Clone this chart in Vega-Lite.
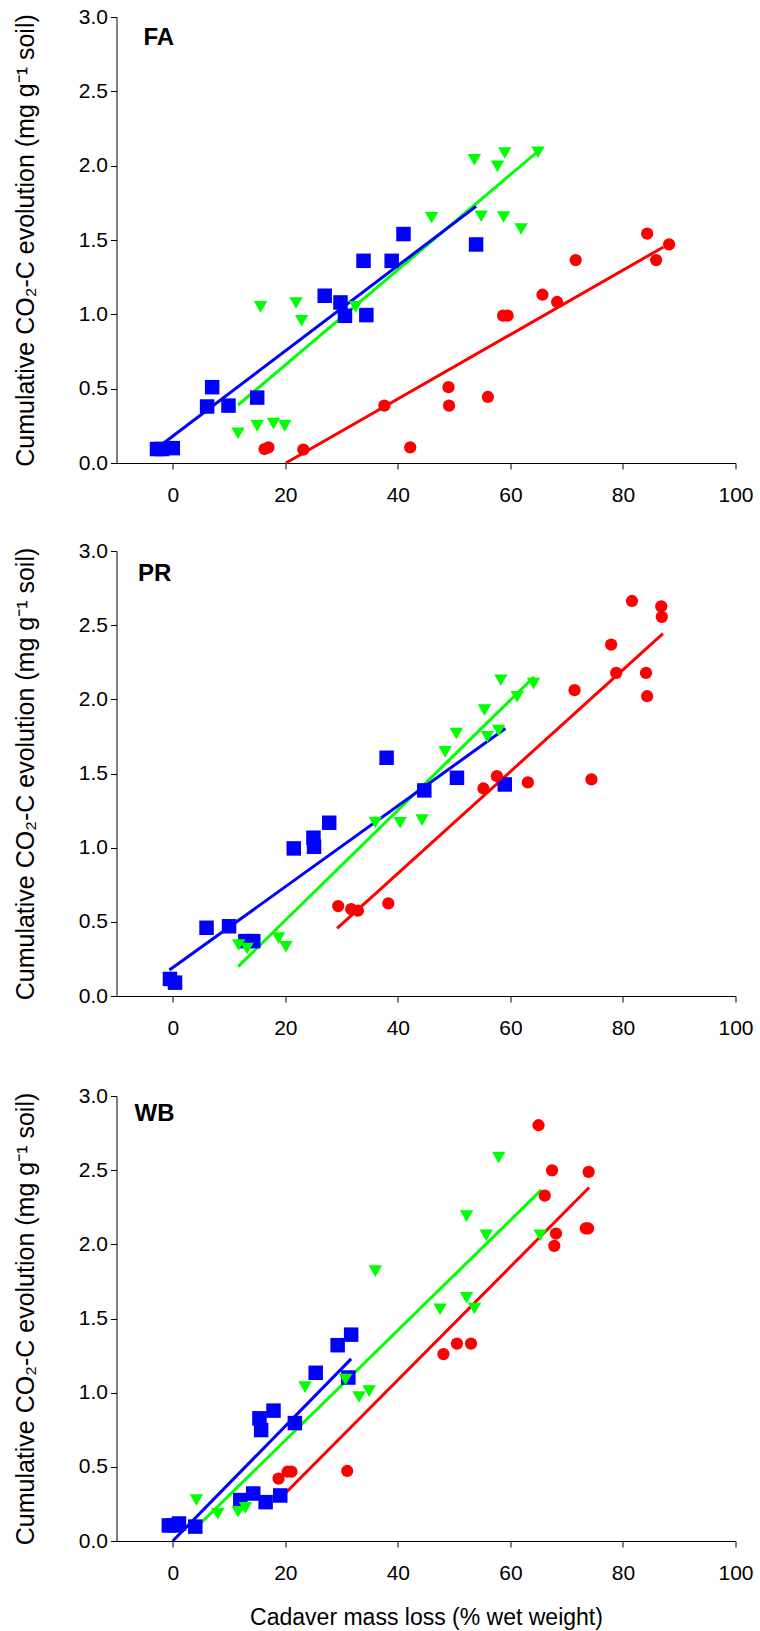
{
  "$schema": "https://vega.github.io/schema/vega-lite/v6.json",
  "background": "white",
  "padding": {"left": 12.5, "top": 6, "right": 5, "bottom": 2},
  "spacing": 47,
  "config": {
    "view": {"stroke": null},
    "font": "Liberation Sans",
    "axis": {
      "grid": false,
      "domainColor": "black",
      "tickColor": "black",
      "labelColor": "black",
      "titleColor": "black",
      "domainWidth": 1,
      "tickWidth": 1,
      "tickSize": 6,
      "labelFont": "Liberation Sans",
      "titleFont": "Liberation Sans",
      "labelFontSize": 21,
      "titleFontWeight": "normal",
      "labelFlush": false,
      "labelOverlap": false
    }
  },
  "datasets": {
    "points": [
      {"site": "FA", "series": "s3", "x": -2.8, "y": 0.094},
      {"site": "FA", "series": "s3", "x": -1.9, "y": 0.094},
      {"site": "FA", "series": "s3", "x": 0.0, "y": 0.10},
      {"site": "FA", "series": "s3", "x": 6.1, "y": 0.38},
      {"site": "FA", "series": "s3", "x": 7.0, "y": 0.51},
      {"site": "FA", "series": "s3", "x": 9.9, "y": 0.386},
      {"site": "FA", "series": "s3", "x": 15.0, "y": 0.44},
      {"site": "FA", "series": "s3", "x": 27.0, "y": 1.125},
      {"site": "FA", "series": "s3", "x": 29.8, "y": 1.08},
      {"site": "FA", "series": "s3", "x": 30.6, "y": 0.99},
      {"site": "FA", "series": "s3", "x": 34.4, "y": 0.995},
      {"site": "FA", "series": "s3", "x": 33.9, "y": 1.36},
      {"site": "FA", "series": "s3", "x": 38.9, "y": 1.36},
      {"site": "FA", "series": "s3", "x": 41.0, "y": 1.54},
      {"site": "FA", "series": "s3", "x": 53.9, "y": 1.47},
      {"site": "FA", "series": "s2", "x": 11.6, "y": 0.20},
      {"site": "FA", "series": "s2", "x": 15.0, "y": 0.25},
      {"site": "FA", "series": "s2", "x": 15.6, "y": 1.05},
      {"site": "FA", "series": "s2", "x": 17.9, "y": 0.265},
      {"site": "FA", "series": "s2", "x": 19.9, "y": 0.25},
      {"site": "FA", "series": "s2", "x": 21.9, "y": 1.076},
      {"site": "FA", "series": "s2", "x": 22.9, "y": 0.957},
      {"site": "FA", "series": "s2", "x": 32.5, "y": 1.05},
      {"site": "FA", "series": "s2", "x": 46.0, "y": 1.65},
      {"site": "FA", "series": "s2", "x": 53.6, "y": 2.04},
      {"site": "FA", "series": "s2", "x": 54.8, "y": 1.66},
      {"site": "FA", "series": "s2", "x": 57.7, "y": 1.995},
      {"site": "FA", "series": "s2", "x": 59.0, "y": 2.085},
      {"site": "FA", "series": "s2", "x": 58.8, "y": 1.655},
      {"site": "FA", "series": "s2", "x": 61.9, "y": 1.574},
      {"site": "FA", "series": "s2", "x": 64.9, "y": 2.09},
      {"site": "FA", "series": "s1", "x": 16.3, "y": 0.094},
      {"site": "FA", "series": "s1", "x": 17.0, "y": 0.105},
      {"site": "FA", "series": "s1", "x": 23.2, "y": 0.09},
      {"site": "FA", "series": "s1", "x": 37.6, "y": 0.386},
      {"site": "FA", "series": "s1", "x": 42.2, "y": 0.105},
      {"site": "FA", "series": "s1", "x": 49.0, "y": 0.51},
      {"site": "FA", "series": "s1", "x": 49.1, "y": 0.386},
      {"site": "FA", "series": "s1", "x": 56.0, "y": 0.444},
      {"site": "FA", "series": "s1", "x": 58.7, "y": 0.991},
      {"site": "FA", "series": "s1", "x": 59.5, "y": 0.991},
      {"site": "FA", "series": "s1", "x": 65.7, "y": 1.132},
      {"site": "FA", "series": "s1", "x": 68.3, "y": 1.083},
      {"site": "FA", "series": "s1", "x": 71.6, "y": 1.365},
      {"site": "FA", "series": "s1", "x": 84.3, "y": 1.543},
      {"site": "FA", "series": "s1", "x": 85.9, "y": 1.365},
      {"site": "FA", "series": "s1", "x": 88.2, "y": 1.471},

      {"site": "PR", "series": "s3", "x": -0.5, "y": 0.115},
      {"site": "PR", "series": "s3", "x": 0.4, "y": 0.09},
      {"site": "PR", "series": "s3", "x": 6.0, "y": 0.46},
      {"site": "PR", "series": "s3", "x": 10.0, "y": 0.47},
      {"site": "PR", "series": "s3", "x": 12.9, "y": 0.37},
      {"site": "PR", "series": "s3", "x": 14.3, "y": 0.37},
      {"site": "PR", "series": "s3", "x": 21.5, "y": 0.995},
      {"site": "PR", "series": "s3", "x": 25.0, "y": 1.067},
      {"site": "PR", "series": "s3", "x": 25.1, "y": 1.006},
      {"site": "PR", "series": "s3", "x": 27.8, "y": 1.168},
      {"site": "PR", "series": "s3", "x": 38.0, "y": 1.606},
      {"site": "PR", "series": "s3", "x": 44.7, "y": 1.386},
      {"site": "PR", "series": "s3", "x": 50.5, "y": 1.471},
      {"site": "PR", "series": "s3", "x": 59.0, "y": 1.426},
      {"site": "PR", "series": "s2", "x": 11.7, "y": 0.344},
      {"site": "PR", "series": "s2", "x": 13.2, "y": 0.32},
      {"site": "PR", "series": "s2", "x": 18.8, "y": 0.39},
      {"site": "PR", "series": "s2", "x": 20.1, "y": 0.332},
      {"site": "PR", "series": "s2", "x": 36.0, "y": 1.17},
      {"site": "PR", "series": "s2", "x": 40.4, "y": 1.168},
      {"site": "PR", "series": "s2", "x": 44.3, "y": 1.186},
      {"site": "PR", "series": "s2", "x": 48.4, "y": 1.646},
      {"site": "PR", "series": "s2", "x": 50.4, "y": 1.77},
      {"site": "PR", "series": "s2", "x": 55.4, "y": 1.927},
      {"site": "PR", "series": "s2", "x": 55.9, "y": 1.747},
      {"site": "PR", "series": "s2", "x": 57.9, "y": 1.79},
      {"site": "PR", "series": "s2", "x": 58.3, "y": 2.129},
      {"site": "PR", "series": "s2", "x": 61.2, "y": 2.017},
      {"site": "PR", "series": "s2", "x": 64.1, "y": 2.106},
      {"site": "PR", "series": "s1", "x": 29.4, "y": 0.606},
      {"site": "PR", "series": "s1", "x": 31.7, "y": 0.586},
      {"site": "PR", "series": "s1", "x": 32.9, "y": 0.575},
      {"site": "PR", "series": "s1", "x": 38.3, "y": 0.624},
      {"site": "PR", "series": "s1", "x": 55.2, "y": 1.399},
      {"site": "PR", "series": "s1", "x": 57.6, "y": 1.482},
      {"site": "PR", "series": "s1", "x": 63.1, "y": 1.44},
      {"site": "PR", "series": "s1", "x": 71.4, "y": 2.062},
      {"site": "PR", "series": "s1", "x": 74.4, "y": 1.46},
      {"site": "PR", "series": "s1", "x": 77.9, "y": 2.369},
      {"site": "PR", "series": "s1", "x": 78.8, "y": 2.178},
      {"site": "PR", "series": "s1", "x": 81.6, "y": 2.663},
      {"site": "PR", "series": "s1", "x": 84.1, "y": 2.178},
      {"site": "PR", "series": "s1", "x": 84.3, "y": 2.021},
      {"site": "PR", "series": "s1", "x": 86.8, "y": 2.627},
      {"site": "PR", "series": "s1", "x": 86.9, "y": 2.556},

      {"site": "WB", "series": "s3", "x": -0.7, "y": 0.105},
      {"site": "WB", "series": "s3", "x": 0.2, "y": 0.105},
      {"site": "WB", "series": "s3", "x": 1.1, "y": 0.118},
      {"site": "WB", "series": "s3", "x": 4.0, "y": 0.097},
      {"site": "WB", "series": "s3", "x": 12.0, "y": 0.276},
      {"site": "WB", "series": "s3", "x": 14.3, "y": 0.32},
      {"site": "WB", "series": "s3", "x": 16.5, "y": 0.262},
      {"site": "WB", "series": "s3", "x": 19.1, "y": 0.307},
      {"site": "WB", "series": "s3", "x": 15.4, "y": 0.827},
      {"site": "WB", "series": "s3", "x": 15.7, "y": 0.748},
      {"site": "WB", "series": "s3", "x": 17.9, "y": 0.879},
      {"site": "WB", "series": "s3", "x": 21.7, "y": 0.795},
      {"site": "WB", "series": "s3", "x": 25.4, "y": 1.134},
      {"site": "WB", "series": "s3", "x": 29.3, "y": 1.32},
      {"site": "WB", "series": "s3", "x": 31.7, "y": 1.391},
      {"site": "WB", "series": "s3", "x": 31.2, "y": 1.102},
      {"site": "WB", "series": "s2", "x": 4.2, "y": 0.276},
      {"site": "WB", "series": "s2", "x": 8.0, "y": 0.184},
      {"site": "WB", "series": "s2", "x": 11.6, "y": 0.197},
      {"site": "WB", "series": "s2", "x": 12.9, "y": 0.223},
      {"site": "WB", "series": "s2", "x": 23.5, "y": 1.037},
      {"site": "WB", "series": "s2", "x": 30.7, "y": 1.089},
      {"site": "WB", "series": "s2", "x": 33.1, "y": 0.971},
      {"site": "WB", "series": "s2", "x": 34.9, "y": 1.01},
      {"site": "WB", "series": "s2", "x": 36.0, "y": 1.819},
      {"site": "WB", "series": "s2", "x": 47.5, "y": 1.562},
      {"site": "WB", "series": "s2", "x": 52.2, "y": 2.19},
      {"site": "WB", "series": "s2", "x": 52.2, "y": 1.64},
      {"site": "WB", "series": "s2", "x": 53.6, "y": 1.567},
      {"site": "WB", "series": "s2", "x": 55.7, "y": 2.06},
      {"site": "WB", "series": "s2", "x": 57.9, "y": 2.585},
      {"site": "WB", "series": "s2", "x": 65.3, "y": 2.06},
      {"site": "WB", "series": "s1", "x": 18.8, "y": 0.42},
      {"site": "WB", "series": "s1", "x": 20.4, "y": 0.467},
      {"site": "WB", "series": "s1", "x": 21.1, "y": 0.467},
      {"site": "WB", "series": "s1", "x": 31.0, "y": 0.472},
      {"site": "WB", "series": "s1", "x": 48.1, "y": 1.26},
      {"site": "WB", "series": "s1", "x": 50.5, "y": 1.331},
      {"site": "WB", "series": "s1", "x": 53.0, "y": 1.331},
      {"site": "WB", "series": "s1", "x": 65.0, "y": 2.803},
      {"site": "WB", "series": "s1", "x": 66.1, "y": 2.328},
      {"site": "WB", "series": "s1", "x": 67.4, "y": 2.499},
      {"site": "WB", "series": "s1", "x": 68.1, "y": 2.073},
      {"site": "WB", "series": "s1", "x": 67.8, "y": 1.99},
      {"site": "WB", "series": "s1", "x": 73.4, "y": 2.108},
      {"site": "WB", "series": "s1", "x": 73.8, "y": 2.108},
      {"site": "WB", "series": "s1", "x": 73.9, "y": 2.488}
    ],
    "fits": [
      {"site": "FA", "series": "s1", "x": 20.1, "y": 0.0},
      {"site": "FA", "series": "s1", "x": 87.2, "y": 1.453},
      {"site": "FA", "series": "s2", "x": 11.6, "y": 0.39},
      {"site": "FA", "series": "s2", "x": 65.0, "y": 2.10},
      {"site": "FA", "series": "s3", "x": -1.6, "y": 0.135},
      {"site": "FA", "series": "s3", "x": 53.9, "y": 1.726},
      {"site": "PR", "series": "s1", "x": 29.2, "y": 0.456},
      {"site": "PR", "series": "s1", "x": 87.1, "y": 2.443},
      {"site": "PR", "series": "s2", "x": 11.6, "y": 0.198},
      {"site": "PR", "series": "s2", "x": 64.2, "y": 2.151},
      {"site": "PR", "series": "s3", "x": -0.6, "y": 0.175},
      {"site": "PR", "series": "s3", "x": 59.1, "y": 1.803},
      {"site": "WB", "series": "s1", "x": 18.8, "y": 0.276},
      {"site": "WB", "series": "s1", "x": 74.0, "y": 2.383},
      {"site": "WB", "series": "s2", "x": 4.2, "y": 0.092},
      {"site": "WB", "series": "s2", "x": 65.5, "y": 2.367},
      {"site": "WB", "series": "s3", "x": 0.0, "y": 0.0},
      {"site": "WB", "series": "s3", "x": 31.7, "y": 1.228}
    ]
  },
  "vconcat": [
    {
      "spacing": 35,
      "vconcat": [
        {
          "width": 619,
          "height": 446,
          "layer": [
            {
              "data": {"name": "fits"},
              "transform": [{"filter": "datum.site === 'FA'"}],
              "mark": {"type": "line", "strokeWidth": 3},
              "encoding": {
                "x": {"field": "x", "type": "quantitative", "scale": {"domain": [-10, 100], "nice": false, "zero": false}, "axis": {"values": [0, 20, 40, 60, 80, 100], "title": null, "labelPadding": 15}},
                "y": {"field": "y", "type": "quantitative", "scale": {"domain": [0, 3], "nice": false}, "axis": {"values": [0, 0.5, 1, 1.5, 2, 2.5, 3], "format": ".1f", "labelPadding": 3, "title": "Cumulative CO₂-C evolution (mg g⁻¹ soil)", "titleFontSize": 25, "titlePadding": 40}},
                "color": {"field": "series", "type": "nominal", "scale": {"domain": ["s1", "s2", "s3"], "range": ["#ff0000", "#00ff00", "#0000ff"]}, "legend": null}
              }
            },
            {
              "data": {"name": "points"},
              "transform": [{"filter": "datum.site === 'FA'"}],
              "mark": {"type": "point", "filled": true, "opacity": 1, "strokeWidth": 0},
              "encoding": {
                "x": {"field": "x", "type": "quantitative"},
                "y": {"field": "y", "type": "quantitative"},
                "color": {"field": "series", "type": "nominal", "legend": null},
                "shape": {"field": "series", "type": "nominal", "scale": {"domain": ["s1", "s2", "s3"], "range": ["circle", "triangle-down", "square"]}, "legend": null},
                "size": {"field": "series", "type": "nominal", "scale": {"domain": ["s1", "s2", "s3"], "range": [150, 210, 150]}, "legend": null}
              }
            },
            {
              "data": {"values": [{"label": "FA"}]},
              "mark": {"type": "text", "fontSize": 24, "fontWeight": "bold", "align": "left", "baseline": "alphabetic", "font": "Liberation Sans", "color": "black"},
              "encoding": {
                "x": {"datum": -5.2, "type": "quantitative"},
                "y": {"datum": 2.81, "type": "quantitative"},
                "text": {"field": "label"}
              }
            }
          ]
        },
        {
          "width": 619,
          "height": 445,
          "layer": [
            {
              "data": {"name": "fits"},
              "transform": [{"filter": "datum.site === 'PR'"}],
              "mark": {"type": "line", "strokeWidth": 3},
              "encoding": {
                "x": {"field": "x", "type": "quantitative", "scale": {"domain": [-10, 100], "nice": false, "zero": false}, "axis": {"values": [0, 20, 40, 60, 80, 100], "title": null, "labelPadding": 15}},
                "y": {"field": "y", "type": "quantitative", "scale": {"domain": [0, 3], "nice": false}, "axis": {"values": [0, 0.5, 1, 1.5, 2, 2.5, 3], "format": ".1f", "labelPadding": 3, "title": "Cumulative CO₂-C evolution (mg g⁻¹ soil)", "titleFontSize": 25, "titlePadding": 40}},
                "color": {"field": "series", "type": "nominal", "scale": {"domain": ["s1", "s2", "s3"], "range": ["#ff0000", "#00ff00", "#0000ff"]}, "legend": null}
              }
            },
            {
              "data": {"name": "points"},
              "transform": [{"filter": "datum.site === 'PR'"}],
              "mark": {"type": "point", "filled": true, "opacity": 1, "strokeWidth": 0},
              "encoding": {
                "x": {"field": "x", "type": "quantitative"},
                "y": {"field": "y", "type": "quantitative"},
                "color": {"field": "series", "type": "nominal", "legend": null},
                "shape": {"field": "series", "type": "nominal", "scale": {"domain": ["s1", "s2", "s3"], "range": ["circle", "triangle-down", "square"]}, "legend": null},
                "size": {"field": "series", "type": "nominal", "scale": {"domain": ["s1", "s2", "s3"], "range": [150, 210, 150]}, "legend": null}
              }
            },
            {
              "data": {"values": [{"label": "PR"}]},
              "mark": {"type": "text", "fontSize": 24, "fontWeight": "bold", "align": "left", "baseline": "alphabetic", "font": "Liberation Sans", "color": "black"},
              "encoding": {
                "x": {"datum": -6.2, "type": "quantitative"},
                "y": {"datum": 2.80, "type": "quantitative"},
                "text": {"field": "label"}
              }
            }
          ]
        }
      ]
    },
    {
      "width": 619,
      "height": 445,
      "layer": [
        {
          "data": {"name": "fits"},
          "transform": [{"filter": "datum.site === 'WB'"}],
          "mark": {"type": "line", "strokeWidth": 3},
          "encoding": {
            "x": {"field": "x", "type": "quantitative", "scale": {"domain": [-10, 100], "nice": false, "zero": false}, "axis": {"values": [0, 20, 40, 60, 80, 100], "title": "Cadaver mass loss (% wet weight)", "titleFontSize": 23, "titlePadding": 23, "labelPadding": 15}},
            "y": {"field": "y", "type": "quantitative", "scale": {"domain": [0, 3], "nice": false}, "axis": {"values": [0, 0.5, 1, 1.5, 2, 2.5, 3], "format": ".1f", "labelPadding": 3, "title": "Cumulative CO₂-C evolution (mg g⁻¹ soil)", "titleFontSize": 25, "titlePadding": 40}},
            "color": {"field": "series", "type": "nominal", "scale": {"domain": ["s1", "s2", "s3"], "range": ["#ff0000", "#00ff00", "#0000ff"]}, "legend": null}
          }
        },
        {
          "data": {"name": "points"},
          "transform": [{"filter": "datum.site === 'WB'"}],
          "mark": {"type": "point", "filled": true, "opacity": 1, "strokeWidth": 0},
          "encoding": {
            "x": {"field": "x", "type": "quantitative"},
            "y": {"field": "y", "type": "quantitative"},
            "color": {"field": "series", "type": "nominal", "legend": null},
            "shape": {"field": "series", "type": "nominal", "scale": {"domain": ["s1", "s2", "s3"], "range": ["circle", "triangle-down", "square"]}, "legend": null},
            "size": {"field": "series", "type": "nominal", "scale": {"domain": ["s1", "s2", "s3"], "range": [150, 210, 150]}, "legend": null}
          }
        },
        {
          "data": {"values": [{"label": "WB"}]},
          "mark": {"type": "text", "fontSize": 24, "fontWeight": "bold", "align": "left", "baseline": "alphabetic", "font": "Liberation Sans", "color": "black"},
          "encoding": {
            "x": {"datum": -6.8, "type": "quantitative"},
            "y": {"datum": 2.83, "type": "quantitative"},
            "text": {"field": "label"}
          }
        }
      ]
    }
  ]
}
